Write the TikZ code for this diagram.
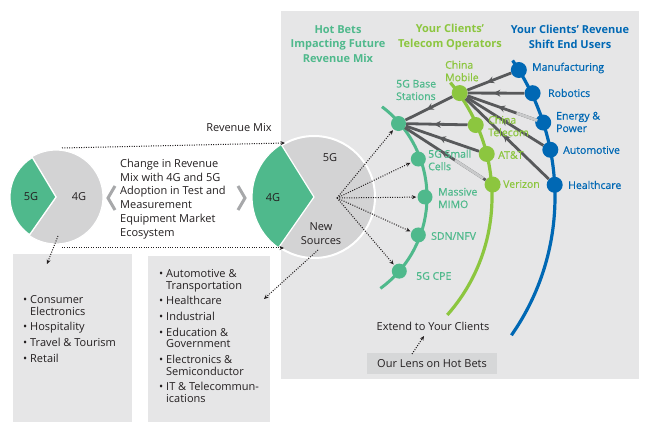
\documentclass[tikz,border=0pt]{standalone}
\usepackage{fontspec}
\setmainfont{Open Sans}
\newfontfamily\medfont[FakeBold=0.6]{Open Sans}
\usetikzlibrary{arrows.meta,decorations.markings,calc}
\definecolor{tealc}{HTML}{4FB98C}
\definecolor{limec}{HTML}{8CC63F}
\definecolor{bluec}{HTML}{0068B4}
\definecolor{panel}{HTML}{E6E6E7}
\definecolor{lensbox}{HTML}{D6D7D8}
\definecolor{piegray}{HTML}{D3D3D4}
\definecolor{darkc}{HTML}{58595B}
\definecolor{lightc}{HTML}{C9CACB}
\definecolor{chevc}{HTML}{A7A8AA}
\definecolor{txtc}{HTML}{231F20}
\begin{document}
\begin{tikzpicture}[x=1pt,y=-1pt,
  body/.style={font=\fontsize{11}{13.8}\selectfont, text=txtc, inner sep=0, align=left},
  lst/.style={font=\fontsize{11}{11.7}\selectfont, text=txtc, inner sep=0, align=left},
  hdr/.style={font=\bfseries\fontsize{11}{14.5}\selectfont, inner sep=0, align=center},
  lab/.style={font=\medfont\fontsize{10.5}{12.5}\selectfont, inner sep=0, align=left, anchor=west},
  dotarrow/.style={dash pattern=on 1pt off 1.4pt, line width=1pt, draw=txtc, -{Stealth[length=4.5pt,width=4pt]}},
  conn/.style={line width=2.8pt, draw=darkc, postaction={decorate},
    decoration={markings, mark=at position 0.55 with {\arrow[darkc]{Stealth[length=7pt,width=7pt]}}}},
  tdot/.style={circle, fill=tealc, minimum size=15pt, inner sep=0},
  ldot/.style={circle, fill=limec, minimum size=16pt, inner sep=0},
  bdot/.style={circle, fill=bluec, minimum size=16pt, inner sep=0},
  chev/.style={draw=chevc, line width=3pt, line join=miter}]
\useasboundingbox (0,0) rectangle (650,430);
\fill[white] (0,0) rectangle (650,430);
% panels
\fill[panel] (281,11) rectangle (639,379);
\fill[panel] (13,254) rectangle (132,422);
\fill[panel] (148,256) rectangle (270,422);

% left pie
\coordinate (lpc) at (56,197);
\filldraw[fill=piegray, draw=white, line width=1.2pt] (lpc) -- ++(-121:47) arc[start angle=-121, end angle=125, radius=47] -- cycle;
\filldraw[fill=tealc, draw=white, line width=1.2pt] (lpc) -- ++(125:46) arc[start angle=125, end angle=239, radius=46] -- cycle;
\node[body] (l5g) at (31,197) {5G};
\node[body] (l4g) at (79,197) {4G};

% middle pie
\coordinate (mpc) at (314,197);
\filldraw[fill=piegray, draw=white, line width=2pt] (mpc) circle[radius=61];
\filldraw[fill=tealc, draw=white, line width=1.2pt] (mpc) -- ++(125:62) arc[start angle=125, end angle=238, radius=62] -- cycle;
\node[body] (m4g) at (273,198) {4G};
\node[body] (m5g) at (330,158) {5G};
\node[body, align=center] (mns) at (321,234) {New\\Sources};

% chevrons
\draw[chev] (115,186) -- (108,198) -- (115,210);
\draw[chev] (238,186) -- (245,198) -- (238,210);

% description
\node[body, anchor=west] (chg) at (120,199) {Change in Revenue\\Mix with 4G and 5G\\Adoption in Test and\\Measurement\\Equipment Market\\Ecosystem};
\node[body] (revmix) at (239,128) {Revenue Mix};

% dotted revenue-mix lines
\coordinate (lt) at (62,148);
\coordinate (mt) at (285,143);
\coordinate (lb) at (62,248);
\coordinate (mb) at (284,248);
\draw[dotarrow] (lt) -- (mt);
\draw[dotarrow] (lb) -- (mb);

% lists
\node[lst, anchor=west] (llist) at (23,329) {\makebox[7pt][l]{•}Consumer\\\hspace*{7pt}Electronics\\[4pt]\makebox[7pt][l]{•}Hospitality\\[4pt]\makebox[7pt][l]{•}Travel \& Tourism\\[4pt]\makebox[7pt][l]{•}Retail};
\node[lst, anchor=west] (mlist) at (159,336) {\makebox[7pt][l]{•}Automotive \&\\\hspace*{7pt}Transportation\\[4pt]\makebox[7pt][l]{•}Healthcare\\[4pt]\makebox[7pt][l]{•}Industrial\\[4pt]\makebox[7pt][l]{•}Education \&\\\hspace*{7pt}Government\\[4pt]\makebox[7pt][l]{•}Electronics \&\\\hspace*{7pt}Semiconductor\\[4pt]\makebox[7pt][l]{•}IT \& Telecommun-\\\hspace*{7pt}ications};
\coordinate (lps) at (58,236);
\coordinate (lpe) at (47,264);
\draw[dotarrow] (lps) -- (lpe);
\coordinate (mps) at (318,250);
\coordinate (mpe) at (264,299);
\draw[dotarrow] (mps) -- (mpe);

% headers
\node[hdr, text=tealc] (h1) at (338,44) {Hot Bets\\Impacting Future\\Revenue Mix};
\node[hdr, text=limec] (h2) at (450,37) {Your Clients'\\Telecom Operators};
\node[hdr, text=bluec] (h3) at (570,37) {Your Clients' Revenue\\Shift End Users};

% arcs
\draw[tealc, line width=3pt] ($(mpc)+(-53:113)$) arc[start angle=-53, end angle=54, radius=113];
\draw[limec, line width=3.2pt] ($(mpc)+(-40:178)$) arc[start angle=-40, end angle=41.5, radius=178];
\draw[bluec, line width=3.2pt] ($(mpc)+(-34.5:241)$) arc[start angle=-34.5, end angle=35, radius=241];

% nodes
\node[tdot] (bs) at ($(mpc)+(-41:112)$) {};
\node[tdot] (sc) at ($(mpc)+(-20:111)$) {};
\node[tdot] (mimo) at ($(mpc)+(0:111)$) {};
\node[tdot] (sdn) at ($(mpc)+(20:111)$) {};
\node[tdot] (cpe) at ($(mpc)+(41:113)$) {};
\node[ldot] (cm) at ($(mpc)+(-35.5:179)$) {};
\node[ldot] (ct) at ($(mpc)+(-24:177)$) {};
\node[ldot] (att) at ($(mpc)+(-14:178)$) {};
\node[ldot] (vz) at ($(mpc)+(-4:179)$) {};
\node[bdot] (man) at ($(mpc)+(-31.8:241)$) {};
\node[bdot] (rob) at ($(mpc)+(-25.4:242)$) {};
\node[bdot] (ene) at ($(mpc)+(-18:241)$) {};
\node[bdot] (aut) at ($(mpc)+(-11.3:241)$) {};
\node[bdot] (hc) at ($(mpc)+(-2.9:241)$) {};

% connectors
\draw[conn] (man) -- (cm);
\draw[conn] (rob) -- (cm);
\draw[conn] (ene) -- (cm);
\draw[conn] (aut) -- (cm);
\draw[conn] (hc) -- (cm);
\draw[conn] (cm) -- (bs);
\draw[conn] (ct) -- (bs);
\draw[conn] (att) -- (bs);
\draw[conn] (vz) -- (bs);
\draw[lightc, line width=2.8pt] ($(cm)!0.68!(ene)$) -- ($(cm)!0.93!(ene)$);
\draw[lightc, line width=2.8pt] ($(bs)!0.6!(vz)$) -- ($(bs)!0.9!(vz)$);

% hub dotted arrows
\coordinate (hub) at (337,198);
\draw[dotarrow, shorten >=1pt] (hub) -- (bs);
\draw[dotarrow, shorten >=1pt] (hub) -- (sc);
\draw[dotarrow, shorten >=1pt] (hub) -- (mimo);
\draw[dotarrow, shorten >=1pt] (hub) -- (sdn);
\draw[dotarrow, shorten >=1pt] (hub) -- (cpe);

% labels
\node[lab, text=tealc] (bsl) at (396,90) {5G Base\\Stations};
\node[lab, text=tealc] (scl) at (428,160) {5G Small\\Cells};
\node[lab, text=tealc] (mimol) at (438,198) {Massive\\MIMO};
\node[lab, text=tealc] (sdnl) at (431,236) {SDN/NFV};
\node[lab, text=tealc] (cpel) at (416,276) {5G CPE};
\node[lab, text=limec] (cml) at (445,71) {China\\Mobile};
\node[lab, text=limec] (ctl) at (488,126) {China\\Telecom};
\node[lab, text=limec] (attl) at (498,155) {AT\&T};
\node[lab, text=limec] (vzl) at (503,184) {Verizon};
\node[lab, text=bluec] (manl) at (532,68) {Manufacturing};
\node[lab, text=bluec] (robl) at (548,93) {Robotics};
\node[lab, text=bluec] (enel) at (556,122) {Energy \&\\Power};
\node[lab, text=bluec] (autl) at (563,150) {Automotive};
\node[lab, text=bluec] (hcl) at (568,185) {Healthcare};

% bottom
\node[body] (ext) at (433,326) {Extend to Your Clients};
\node[body, fill=lensbox, minimum width=130pt, minimum height=21pt] (lens) at (432,363.5) {Our Lens on Hot Bets};
\coordinate (lensa) at (412,354);
\coordinate (exta) at (424,336);
\draw[dotarrow] (lensa) -- (exta);
\end{tikzpicture}
\end{document}
